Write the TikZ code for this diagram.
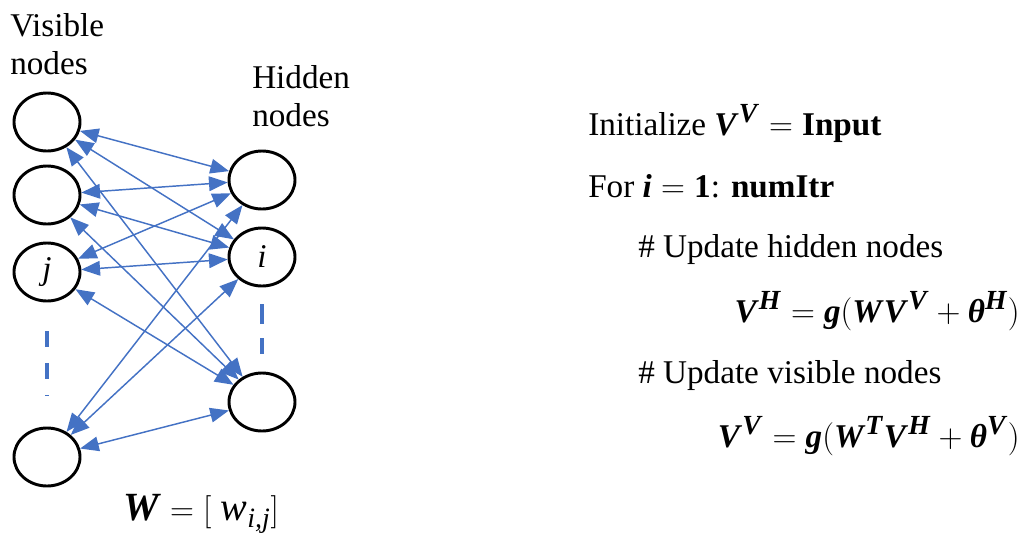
\documentclass[tikz,border=0pt]{standalone}
\usepackage{amsmath,amssymb}
\usepackage{fontspec}
\setmainfont{Liberation Serif}
\usepackage{xcolor}
\usepackage{tikz}
\usetikzlibrary{arrows.meta,shapes.geometric}
\definecolor{netblue}{HTML}{4472C4}
\newcommand{\bv}[1]{\textbf{\textit{#1}}}

\begin{document}
\begin{tikzpicture}[
  x=0.75pt, y=-0.75pt,
  font=\fontsize{24.88}{28.5}\selectfont,
  >={Triangle[length=14pt, width=11pt]},
  unit/.style={ellipse, draw=black, line width=2.2pt,
    minimum width=49.5pt, minimum height=43.5pt, inner sep=0pt},
  e/.style={<->, line width=1.1pt, draw=netblue},
  more/.style={draw=netblue, line width=3.5pt},
  lbl/.style={inner sep=0pt},
]
\useasboundingbox (0,0) rectangle (1024,536);

\node[unit] (v1) at (47,122) {};
\node[unit] (v2) at (47,195) {};
\node[unit] (v3) at (47,272) {\textit{j}};
\node[unit] (v4) at (47,457) {};

\node[unit] (h1) at (262,180) {};
\node[unit] (h2) at (262,257) {\textit{i}};
\node[unit] (h3) at (262,402) {};

\draw[e] (v1) -- (h1);
\draw[e] (v1) -- (h2);
\draw[e] (v1) -- (h3);
\draw[e] (v2) -- (h1);
\draw[e] (v2) -- (h2);
\draw[e] (v2) -- (h3);
\draw[e] (v3) -- (h1);
\draw[e] (v3) -- (h2);
\draw[e] (v3) -- (h3);
\draw[e] (v4) -- (h1);
\draw[e] (v4) -- (h2);
\draw[e] (v4) -- (h3);

\draw[more, dash pattern=on 12pt off 12pt, shorten <=21.75pt, shorten >=23pt] (v3) -- (v4);
\draw[more, dash pattern=on 15pt off 10.5pt, shorten <=12.75pt, shorten >=13.5pt] (h2) -- (h3);

\node[lbl, anchor=north west, align=left] (vislbl) at (10,13) {Visible\\nodes};
\node[lbl, anchor=north west, align=left] (hidlbl) at (252,65) {Hidden\\nodes};
\node[lbl, anchor=base, font=\fontsize{30}{34}\selectfont] (wmat) at (201,520)
  {$\bv{W} = [\;\textit{w}_{\textit{i,j}}]$};

\node[lbl, anchor=base west] (init) at (588,135)
  {Initialize $\bv{V}^{\bv{V}} = \mathbf{Input}$};
\node[lbl, anchor=base west] (loop) at (588,197)
  {For $\bv{i} = \mathbf{1}$: $\mathbf{numItr}$};
\node[lbl, anchor=base west] (cmth) at (638,257) {\# Update hidden nodes};
\node[lbl, anchor=base east] (eqh) at (1020,322)
  {$\bv{V}^{\bv{H}} = \bv{g}(\bv{W}\bv{V}^{\bv{V}} + \bv{θ}^{\bv{H}})$};
\node[lbl, anchor=base west] (cmtv) at (638,383) {\# Update visible nodes};
\node[lbl, anchor=base east] (eqv) at (1020,447)
  {$\bv{V}^{\bv{V}} = \bv{g}(\bv{W}^{\bv{T}}\bv{V}^{\bv{H}} + \bv{θ}^{\bv{V}})$};
\end{tikzpicture}
\end{document}
